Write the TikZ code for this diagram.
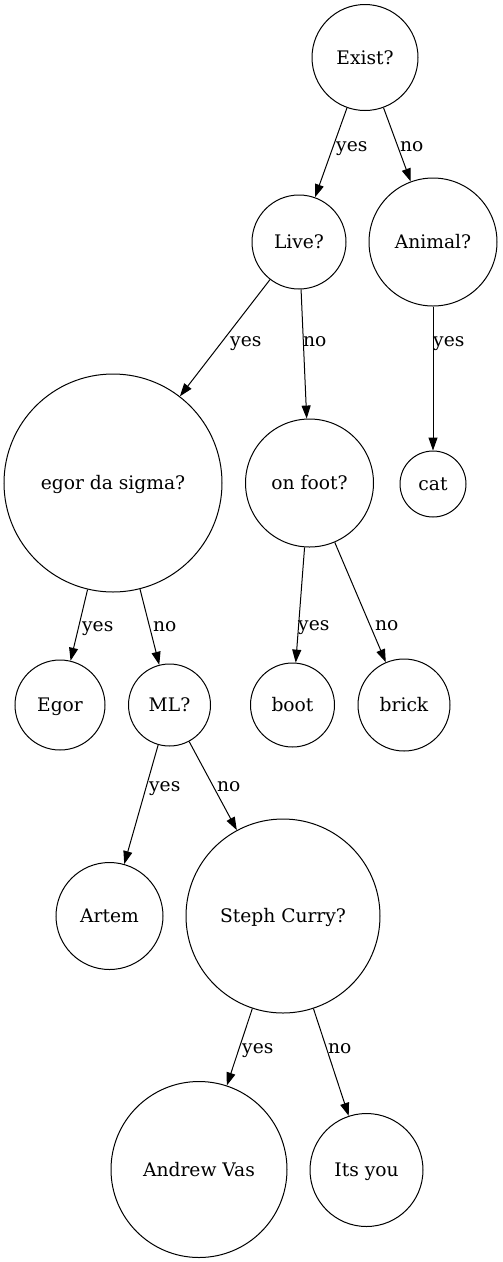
\documentclass[tikz,border=0pt]{standalone}
\usepackage{fontspec}
\setmainfont{DejaVu Serif}
\usepackage{tikz}
\usetikzlibrary{arrows.meta,positioning}

\tikzset{
  state/.style={circle, draw, line width=1pt, inner sep=0pt, text height=13pt, text depth=0pt,
    font=\fontsize{18.67}{22}\selectfont},
  arr/.style={-{Triangle[length=13pt,width=9pt]}, line width=1pt},
  lbl/.style={anchor=base west, inner sep=0pt, font=\fontsize{18.67}{22}\selectfont}
}

\begin{document}
\begin{tikzpicture}[x=1pt,y=-1pt]
    \useasboundingbox (0,0) rectangle (503,1262);
    % questions and answers
    \node[state, minimum size=106pt] (exist) at (365,57.5) {Exist?};
    \node[state, minimum size=94pt] (live) at (299,242) {Live?};
    \node[state, minimum size=128pt] (animal) at (433,242) {Animal?};
    \node[state, minimum size=218pt] (sigma) at (113,483) {egor da sigma?};
    \node[state, minimum size=128pt] (foot) at (309.5,483) {on foot?};
    \node[state, minimum size=66pt] (cat) at (433,484) {cat};
    \node[state, minimum size=90pt] (egor) at (60,705) {Egor};
    \node[state, minimum size=82pt] (ml) at (169.5,705) {ML?};
    \node[state, minimum size=84pt] (boot) at (292.5,705) {boot};
    \node[state, minimum size=92pt] (brick) at (404,705) {brick};
    \node[state, minimum size=107pt] (artem) at (109.5,916) {Artem};
    \node[state, minimum size=194pt] (curry) at (283,916) {Steph Curry?};
    \node[state, minimum size=176pt] (andrew) at (199,1169.5) {Andrew Vas};
    \node[state, minimum size=113pt] (you) at (366.5,1170) {Its you};
    % branches
    \draw[arr] (exist) -- (live);
    \draw[arr] (exist) -- (animal);
    \draw[arr] (live) -- (sigma);
    \draw[arr] (live) -- (foot);
    \draw[arr] (animal) -- (cat);
    \draw[arr] (sigma) -- (egor);
    \draw[arr] (sigma) -- (ml);
    \draw[arr] (foot) -- (boot);
    \draw[arr] (foot) -- (brick);
    \draw[arr] (ml) -- (artem);
    \draw[arr] (ml) -- (curry);
    \draw[arr] (curry) -- (andrew);
    \draw[arr] (curry) -- (you);
    % branch labels
    \node[lbl] (l1) at (336,151) {yes};
    \node[lbl] (l2) at (400,151) {no};
    \node[lbl] (l3) at (230,346) {yes};
    \node[lbl] (l4) at (303,346) {no};
    \node[lbl] (l5) at (433,346) {yes};
    \node[lbl] (l6) at (82,631) {yes};
    \node[lbl] (l7) at (153,631) {no};
    \node[lbl] (l8) at (298,630) {yes};
    \node[lbl] (l9) at (375,630) {no};
    \node[lbl] (l10) at (149,791) {yes};
    \node[lbl] (l11) at (217,791) {no};
    \node[lbl] (l12) at (242,1053) {yes};
    \node[lbl] (l13) at (328,1053) {no};
\end{tikzpicture}
\end{document}
